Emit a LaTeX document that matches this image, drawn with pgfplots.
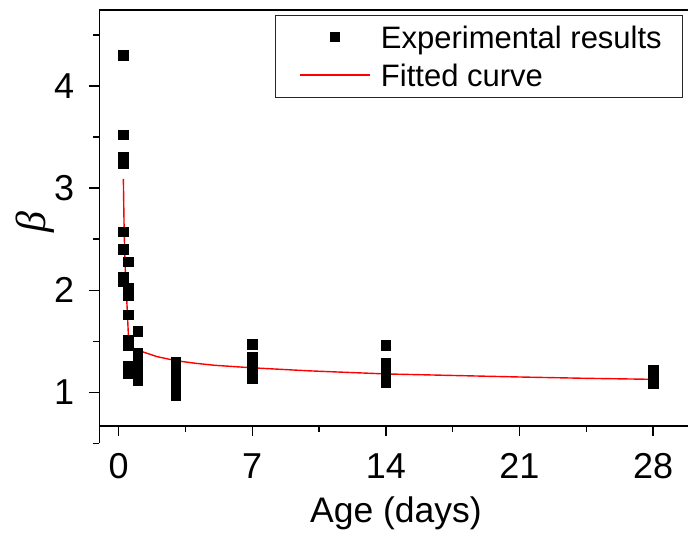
\documentclass[border=0pt]{standalone}
\usepackage{fontspec}
\setmainfont{Liberation Sans}
\newfontfamily\betafont{Liberation Serif}
\usepackage{pgfplots}
\usepackage{pgfplotstable}
\pgfplotsset{compat=1.18}
\pgfplotsset{
  scatleg/.style={legend image code/.code={\path[draw=none,fill=none] (0pt,-11pt) rectangle (74pt,11pt); \draw[##1] plot coordinates {(39pt,0pt)};}},
  lineleg/.style={legend image code/.code={\path[draw=none,fill=none] (0pt,-11pt) rectangle (74pt,11pt); \draw[##1] (4pt,0pt) -- (74pt,0pt);}},
}
\pgfplotstableread{
x y
0.25 4.30
0.25 3.52
0.25 3.31
0.25 3.24
0.25 2.57
0.25 2.40
0.25 2.13
0.25 2.09
0.5 2.28
0.5 2.02
0.5 1.95
0.5 1.76
0.5 1.51
0.5 1.46
0.5 1.26
0.5 1.18
1 1.60
1 1.39
1 1.33
1 1.26
1 1.20
1 1.12
3 1.30
3 1.24
3 1.18
3 1.12
3 1.06
3 0.97
7 1.47
7 1.35
7 1.28
7 1.21
7 1.14
14 1.46
14 1.29
14 1.23
14 1.16
14 1.10
28 1.22
28 1.17
28 1.13
28 1.09
}\expdata
\pgfplotstableread{
x y
0.25 3.09
0.29 2.60
0.335 2.27
0.43 1.90
0.53 1.49
0.6 1.46
0.8 1.43
1.2 1.40
2 1.35
3 1.31
4 1.285
5 1.265
7 1.24
10 1.21
14 1.18
17.5 1.165
21 1.15
24.5 1.137
28 1.127
}\fitdata
\begin{document}
\begin{tikzpicture}
\begin{axis}[
  scale only axis, width=591.8pt, height=415.7pt,
  xmin=-1, xmax=30, ymin=0.673, ymax=4.744,
  clip=false,
  xtick={0,7,14,21,28}, minor xtick={3.5,10.5,17.5,24.5},
  ytick={1,2,3,4}, minor ytick={1.5,2.5,3.5,4.5},
  xtick pos=left, ytick pos=left,
  tick align=outside,
  major tick length=10.7pt, minor tick length=6pt,
  axis line style={line width=1.6pt},
  every tick/.style={black, line width=1.3pt},
  /pgf/number format/assume math mode=true,
  tick label style={font=\fontsize{36}{42}\selectfont, inner sep=0pt},
  xticklabel style={anchor=base, yshift=-42.3pt},
  yticklabel style={anchor=east, xshift=-14.5pt},
  xlabel={Age (days)},
  xlabel style={font=\fontsize{35.5}{42}\selectfont, at={(axis description cs:0.501,-0.234)}, anchor=base},
  ylabel={\betafont\itshape β},
  ylabel style={font=\fontsize{42}{48}\selectfont, at={(axis description cs:-0.109,0.49)}, anchor=center},
  legend cell align=left,
  legend style={at={(axis description cs:0.2966,0.989)}, anchor=north west,
    draw=black!85, line width=1pt, inner xsep=0pt, inner ysep=11pt,
    minimum width=407pt,
    row sep=16pt, column sep=10pt,
    font=\fontsize{31}{37}\selectfont,
    nodes={inner sep=0pt, text height=22pt, text depth=0pt, minimum width=0pt}},
]
\addplot[only marks, mark=square*, mark size=4.7pt, black, scatleg]
  table[x=x, y=y] {\expdata};
\addlegendentry{Experimental results}
\addplot[red, line width=1.4pt, mark=none, lineleg]
  table[x=x, y=y] {\fitdata};
\addlegendentry{Fitted curve}
\draw[line width=1.6pt] (axis cs:-1,0.68) -- (axis cs:-1,0.5);
\draw[line width=1.3pt] (axis cs:-1,0.5) -- ++(-6pt,0pt);
\end{axis}
\pgfresetboundingbox
\path[use as bounding box] (-99.5pt,-115.3pt) rectangle (588.5pt,425.7pt);
\end{tikzpicture}
\end{document}
